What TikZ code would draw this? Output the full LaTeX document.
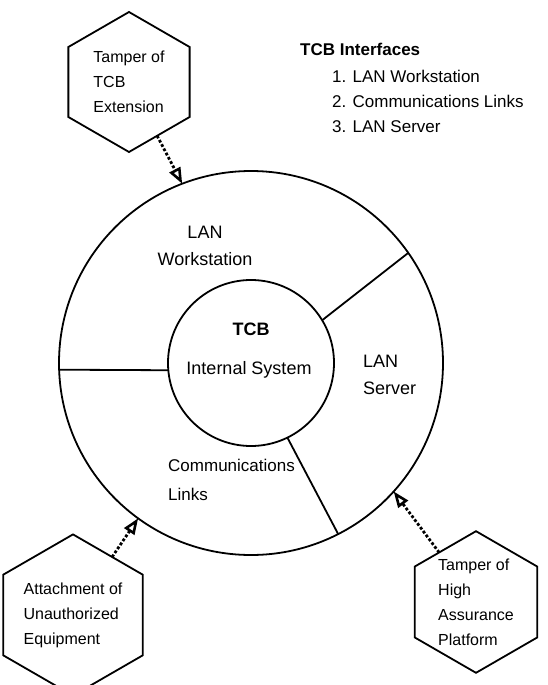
\documentclass[tikz,border=0pt]{standalone}
\usepackage{fontspec}
\setmainfont{Liberation Sans}
\usepackage{tikz}
\usetikzlibrary{positioning,shapes,arrows.meta}

\tikzset{
  ring/.style={draw, circle, line width=1.8pt, inner sep=0pt, outer sep=0pt},
  wall/.style={line width=1.8pt},
  threat/.style={draw, regular polygon, regular polygon sides=6, shape border rotate=30,
    line width=1.8pt, minimum size=140pt, inner sep=0pt, outer sep=0pt,
    align=left, font=\fontsize{16}{25}\selectfont},
  attack/.style={line width=2.8pt, dotted, -{Triangle[open, length=16pt, width=12pt, line width=2.6pt]}},
  ringtext/.style={inner sep=0pt, align=center, font=\fontsize{18}{27}\selectfont},
  listtext/.style={inner sep=0pt, align=left, anchor=west, font=\fontsize{17}{25}\selectfont}
}

\begin{document}
\begin{tikzpicture}[x=1pt, y=-1pt]
\useasboundingbox (0,0) rectangle (548,685);
% TCB and the ring of interfaces
\node[ring, minimum size=384pt] (outer) at (251,363) {};
\node[ring, minimum size=166pt] (inner) at (251,363) {};

% Walls between the interfaces
\draw[wall] (inner.185) -- (outer.182);
\draw[wall] (inner.31) -- (outer.35);
\draw[wall] (inner.-64) -- (outer.-63);

% Ring labels
\node[ringtext] (tcb) at (251,329) {\textbf{TCB}};
\node[ringtext] (internal) at (249,370) {Internal System};
\node[ringtext] (workstation) at (205,246) {LAN\\Workstation};
\node[ringtext, align=left, anchor=west] (server) at (363,375) {LAN\\Server};
\node[ringtext, align=left, anchor=west, font=\fontsize{17}{29}\selectfont] (links) at (168,480) {Communications\\Links};

% Interface list
\node[listtext, font=\fontsize{17}{25}\selectfont\bfseries] (title) at (300,49) {TCB Interfaces};
\node[listtext] (list) at (332,101) {1. LAN Workstation\\2. Communications Links\\3. LAN Server};

% Threats
\node[threat] (extension) at (129,82) {Tamper of\\TCB\\Extension};
\node[threat] (equipment) at (73,615) {Attachment of\\Unauthorized\\Equipment};
\node[threat] (platform) at (476,602) {Tamper of\\High\\Assurance\\Platform};

\draw[attack] (extension) -- (outer.111);
\draw[attack] (equipment) -- (outer.234);
\draw[attack] (platform) -- (outer.-42);
\end{tikzpicture}
\end{document}
